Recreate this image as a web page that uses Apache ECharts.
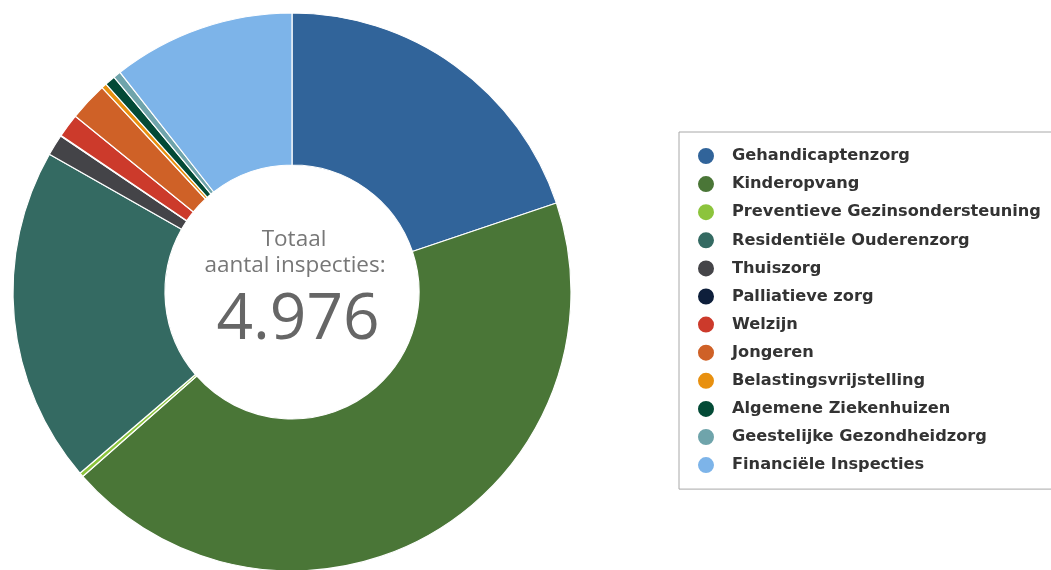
<!DOCTYPE html>
<html><head><meta charset="utf-8">
<script src="https://cdn.jsdelivr.net/npm/echarts@6/dist/echarts.min.js"></script>
<style>html,body{margin:0;padding:0;background:#fff}#c{width:1051px;height:570px}</style>
</head><body><div id="c"></div>
<script>
const categories = ["Gehandicaptenzorg","Kinderopvang","Preventieve Gezinsondersteuning","Residentiële Ouderenzorg","Thuiszorg","Palliatieve zorg","Welzijn","Jongeren","Belastingsvrijstelling","Algemene Ziekenhuizen","Geestelijke Gezondheidzorg","Financiële Inspecties"];
const values = [987, 2173, 12, 969, 61, 2, 68, 111, 15, 30, 22, 526];
const colors = ["#31649a","#4a7637","#8cc43c","#346a62","#444448","#0e1f3b","#cc3a2b","#cf6127","#e8900f","#034a36","#6fa4ab","#7db4e9"];
const centerLines = ["Totaal","aantal inspecties:"];
const totalLabel = "4.976";

const chart = echarts.init(document.getElementById('c'));
chart.setOption({
  animation:false,
  color: colors,
  legend:{
    orient:'vertical', left:679, top:132,
    data: categories,
    icon:'circle', itemWidth:42, itemHeight:18, itemGap:8.1,
    borderColor:'#a8a8a8', borderWidth:1, borderRadius:0,
    padding:[14, 40, 14, 17],
    textStyle:{fontFamily:'DejaVu Sans', fontWeight:'bold', fontSize:16.2, lineHeight:18, color:'#333'}
  },
  graphic:[
    {type:'text', silent:true, z:10,
     position:[294,240], style:{text:centerLines[0], x:0, y:0, textAlign:'center', textVerticalAlign:'middle', fontFamily:'Open Sans', fontSize:22.5, fill:'#777'}},
    {type:'text', silent:true, z:10,
     position:[295,266], style:{text:centerLines[1], x:0, y:0, textAlign:'center', textVerticalAlign:'middle', fontFamily:'Open Sans', fontSize:22.5, fill:'#777'}},
    {type:'text', silent:true, z:10,
     position:[298,321], style:{text:totalLabel, x:0, y:0, textAlign:'center', textVerticalAlign:'middle', fontFamily:'Open Sans', fontSize:64, fill:'#666'}}
  ],
  series:[{
    type:'pie', center:[292,292], radius:[127,279], startAngle:90, clockwise:true,
    label:{show:false}, labelLine:{show:false},
    itemStyle:{borderColor:'#fff', borderWidth:1.2},
    emphasis:{disabled:true},
    data: categories.map((n,i)=>({name:n, value:values[i]}))
  }]
});
</script></body></html>
